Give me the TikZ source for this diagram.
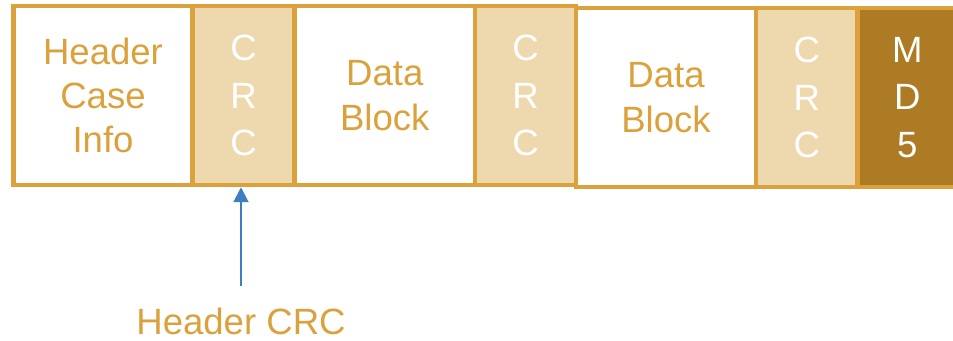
\documentclass[tikz,border=0pt]{standalone}
\usepackage{fontspec}
\setmainfont{Liberation Sans}
\usepackage{xcolor}
\usetikzlibrary{arrows.meta,calc,positioning}
\definecolor{gold}{RGB}{219,161,60}
\definecolor{crcfill}{RGB}{238,217,175}
\definecolor{md5fill}{RGB}{173,123,36}
\definecolor{arrowblue}{RGB}{58,128,193}
\tikzset{%
	field/.style    = {draw=gold, line width=0.09cm, rectangle, inner sep=0pt, outer sep=0pt, minimum height=3.58cm, align=center, text=gold, font=\fontsize{20.8}{25.2}\selectfont},
	datafield/.style= {field, minimum width=3.6cm},
	crcfield/.style = {field, fill=crcfill, text=white, minimum width=2.03cm, font=\fontsize{20.8}{27}\selectfont},
	md5field/.style = {crcfield, fill=md5fill, minimum width=1.99cm},
	crcarrow/.style = {draw=arrowblue, line width=0.04cm, -{Triangle[width=0.3cm,length=0.3cm]}},
}

\begin{document}
\begin{tikzpicture}
		\useasboundingbox (0,0) rectangle (19.06,6.82);
		
		\node[field, minimum width=3.58cm] (hdr) at (2.06,4.91) {Header\\Case\\Info};
		\node[crcfield, minimum width=2.04cm, right=0pt of hdr] (crcA) {C\\R\\C};
		\node[datafield, minimum width=3.61cm, right=0pt of crcA] (datA) {Data\\Block};
		\node[crcfield, minimum width=2.02cm, right=0pt of datA] (crcB) {C\\R\\C};
		% second half sits a little lower
		\node[datafield, right=0pt of crcB, yshift=-0.04cm] (datB) {Data\\Block};
		\node[crcfield, right=0pt of datB] (crcC) {C\\R\\C};
		\node[md5field, right=0pt of crcC] (md5) {M\\D\\5};
		
		\node[text=gold, inner sep=0pt, anchor=base, font=\fontsize{20.8}{25}\selectfont] (lbl) at (4.82,0.12) {Header CRC};
		\draw[crcarrow, shorten >=0.045cm] ([yshift=0.44cm]lbl.north) -- (lbl.north |- crcA.south);
	\end{tikzpicture}
\end{document}
